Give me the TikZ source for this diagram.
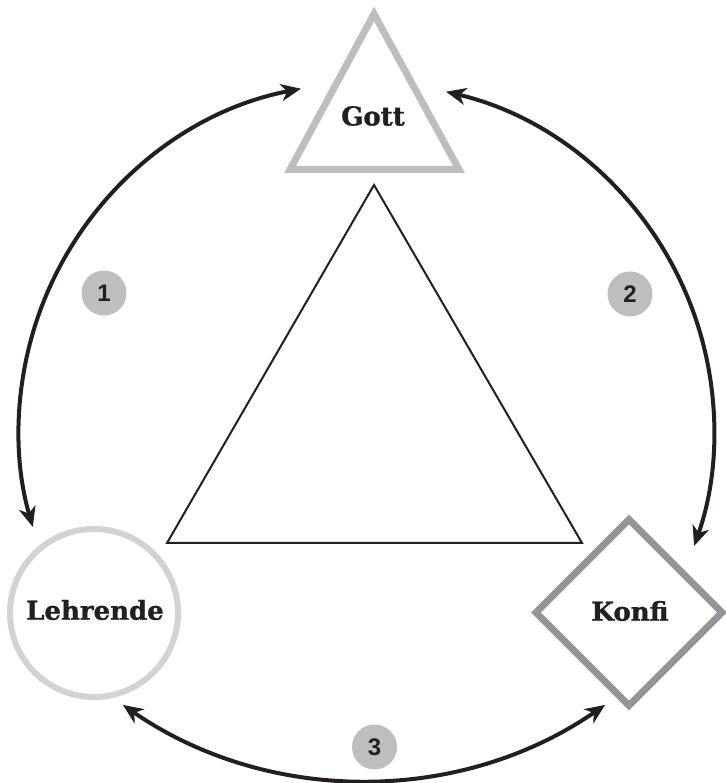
\documentclass[tikz,border=0pt]{standalone}
\usepackage{fontspec}
\setmainfont{DejaVu Serif}
\newfontfamily\lblfont{DejaVu Serif}[UprightFont=*-Bold,FakeBold=1.2]
\newfontfamily\numfont{Liberation Sans}
\usetikzlibrary{arrows.meta,calc}
\definecolor{arcc}{HTML}{231F20}
\definecolor{gottc}{HTML}{BCBEC0}
\definecolor{lehrc}{HTML}{D1D3D4}
\definecolor{konfc}{HTML}{939598}
\definecolor{badgec}{HTML}{BCBEC0}
\tikzset{
  conn/.style={draw=arcc,line width=4pt,{Stealth[length=20pt,width=17pt,inset=6pt]}-{Stealth[length=20pt,width=17pt,inset=6pt]}},
  lbl/.style={font=\lblfont\fontsize{26}{30}\selectfont,text=arcc,inner sep=0pt},
  badge/.style={circle,fill=badgec,minimum size=45pt,inner sep=0pt,font=\numfont\bfseries\fontsize{24}{28}\selectfont,text=arcc},
  shapeline/.style={line width=7pt,line join=miter}
}
\begin{document}
\begin{tikzpicture}[x=1pt,y=1pt]
\useasboundingbox (0,0) rectangle (725,783);
% Gott triangle
\coordinate (gA) at (374,769);
\coordinate (gB) at (290,613.5);
\coordinate (gC) at (459,613.5);
\draw[shapeline,draw=gottc] (gA) -- (gB) -- (gC) -- cycle;
\node[lbl] (gott) at (373,667) {Gott};
% inner triangle
\coordinate (tA) at (374,598);
\coordinate (tB) at (167,240);
\coordinate (tC) at (582,240);
\draw[draw=arcc,line width=2pt,line join=miter] (tA) -- (tB) -- (tC) -- cycle;
% Lehrende circle
\node[circle,draw=lehrc,line width=6pt,minimum size=168pt,inner sep=0pt] (lehrcirc) at (94,170) {};
\node[lbl] (lehrende) at (95,173) {Lehrende};
% Konfi diamond
\coordinate (kc) at (629,170.5);
\draw[shapeline,draw=konfc] ($(kc)+(0,93)$) -- ($(kc)+(-93,0)$) -- ($(kc)+(0,-93)$) -- ($(kc)+(93,0)$) -- cycle;
\node[lbl] (konfi) at (630,172) {Konfi};
% badges
\node[badge] (b1) at (104,490) {1};
\node[badge] (b2) at (630,489) {2};
\node[badge] (b3) at (374.5,36) {3};
% arcs
\coordinate (c1) at (366.5,353);
\coordinate (c3) at (364,427.7);
\coordinate (e1a) at ($(c1)+(100.87:347.5)$);
\coordinate (e2a) at ($(c1)+(76.76:347.5)$);
\coordinate (e3a) at ($(c3)+(235.4:424.7)$);
\draw[conn] (e1a) arc[start angle=100.87,end angle=196.2,radius=347.5pt];
\draw[conn] (e2a) arc[start angle=76.76,end angle=-19.5,radius=347.5pt];
\draw[conn] (e3a) arc[start angle=235.4,end angle=304.6,radius=424.7pt];
\end{tikzpicture}
\end{document}
